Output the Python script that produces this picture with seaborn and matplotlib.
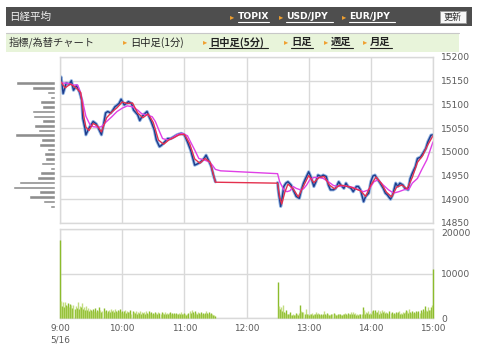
import numpy as np
import matplotlib
matplotlib.use("Agg")
import matplotlib.pyplot as plt
from matplotlib.lines import Line2D
from matplotlib.patches import Rectangle
import seaborn as sns

# ---------------- data (minutes after 9:00) ----------------
am_minutes = [0,1,3,6,9,11,13,16,19,21,22,24,25,28,30,32,35,37,40,42,44,46,49,51,53,57,59,62,64,66,
              69,71,75,77,79,82,84,86,88,91,93,96,98,101,104,107,110,113,117,120,123,126,130,133,136,139,141,144,146,148,150]
am_close = [15150,15158,15123,15145,15143,15150,15130,15140,15125,15109,15071,15050,15036,15050,15057,15064,15059,15050,15036,15057,
            15082,15085,15082,15088,15095,15102,15111,15099,15102,15106,15102,15088,15078,15066,15074,15081,15085,15074,15064,15046,
            15025,15011,15014,15021,15028,15028,15032,15036,15039,15036,15021,15004,14972,14975,14979,14986,14993,14979,14969,14951,14937]
pm_minutes = [210,211,213,214,216,218,220,223,225,228,231,233,235,237,240,242,245,247,249,252,254,257,259,261,264,266,269,271,274,276,
              278,281,283,286,288,290,293,295,298,300,302,304,306,309,312,314,316,319,321,324,326,328,331,333,336,338,340,343,345,348,
              350,353,355,358,360]
pm_close = [14935,14913,14885,14897,14927,14934,14937,14930,14920,14906,14902,14920,14934,14944,14958,14948,14927,14937,14951,14948,
            14951,14948,14930,14920,14920,14923,14937,14930,14923,14934,14927,14923,14916,14927,14927,14920,14895,14906,14913,14937,
            14949,14951,14944,14934,14923,14913,14909,14900,14909,14934,14927,14934,14930,14923,14920,14944,14955,14969,14986,14989,
            14996,15007,15021,15035,15036]

ma_short_minutes = [0,5,10,15,20,23,25,28,32,36,40,45,50,55,60,65,70,75,80,85,90,95,100,105,110,115,120,125,130,135,
                    140,145,150,210,212,214,217,220,225,230,235,240,245,250,255,260,265,270,275,280,285,290,295,300,305,310,
                    315,320,325,330,335,340,345,350,355,360]
ma_short = [15150,15135,15143,15136,15125,15075,15052,15045,15060,15055,15042,15072,15084,15093,15105,15102,15103,15082,15072,15080,
            15062,15025,15016,15025,15030,15036,15037,15018,14985,14976,14986,14978,14936,14934,14905,14890,14915,14932,14922,14905,
            14928,14950,14935,14946,14948,14930,14922,14930,14928,14926,14922,14918,14906,14930,14947,14934,14915,14905,14926,14930,
            14922,14946,14978,14992,15015,15034]

ma_long_minutes = [0,6,13,17,19,22,25,29,32,37,40,45,50,55,60,65,70,75,79,84,89,92,96,99,104,109,113,118,123,126,
                   130,134,139,144,147,150,155,210,212,216,219,222,225,228,232,235,238,241,245,249,254,259,264,269,274,278,
                   283,288,293,298,303,307,312,317,322,327,332,337,340,345,349,354,360]
ma_long = [15145,15145,15141,15141,15130,15105,15075,15057,15053,15052,15053,15064,15074,15085,15092,15097,15095,15088,15080,15078,
           15074,15064,15043,15028,15025,15030,15036,15039,15034,15021,15004,14986,14983,14979,14972,14963,14960,14954,14937,14920,
           14916,14918,14927,14923,14920,14922,14930,14941,14946,14946,14944,14937,14929,14927,14929,14927,14925,14920,14916,14920,
           14937,14941,14930,14920,14913,14916,14920,14922,14934,14944,14962,14983,15021]

# per-minute volume, 9:00-11:30 and 12:30-15:00
vol_am = [17500,
          3800,2700,3500,2400,3700,2900,2600,3300,2500,3200,
          2900,2200,3000,2000,2600,2300,3600,2100,2800,2400,
          3300,2000,2500,1800,2700,1900,2200,1600,2100,1700,
          1500,2000,1600,2300,1400,1900,1500,2400,1700,1300,
          1600,2200,1500,1900,1200,1600,1800,1300,2000,1500,
          1700,1400,2000,1600,1300,1800,1500,2100,1400,1600,
          1200,1500,1800,1100,1600,1400,1300,1700,1000,1500,
          1300,1100,1600,900,1400,1200,1500,1000,1300,1100,
          1400,900,1600,1200,1000,1500,1100,1300,900,1200,
          1000,1400,1100,900,1300,1200,1000,1400,1100,900,
          1300,1000,1200,800,1100,1300,900,1200,1000,1100,
          900,1200,1000,800,1100,900,1300,1000,800,1100,
          900,700,1000,1200,1600,1100,1800,1300,1000,1500,
          1200,900,1400,1100,800,1300,1000,1200,900,1100,
          1500,1200,1000,1400,800,1100,900,700,600,500]
vol_pm = [8000,
          2600,2000,2400,1500,2900,1300,1200,1700,900,1000,
          800,1300,700,600,900,700,600,1100,800,600,
          1200,3000,1500,1400,1300,1000,2100,900,1000,700,
          900,800,1200,700,1000,800,1400,900,1100,800,
          700,900,600,1000,1500,900,700,1100,800,600,
          700,1000,800,1100,900,700,600,900,1000,800,
          700,600,1000,900,1200,800,700,1100,900,1000,
          1400,800,1300,900,1100,700,1000,600,800,900,
          1000,2400,1800,900,1300,1100,1600,1000,1200,900,
          1500,1900,1100,1700,1300,1400,1800,1000,1600,1200,
          1700,1300,1500,1100,1400,1200,1000,1500,1100,1300,
          1000,1200,900,1400,1100,1300,1500,1000,1200,900,
          1300,1100,1400,1900,1600,1200,2000,1300,1100,1500,
          1200,1400,1100,1600,1300,1500,1200,1800,1400,2000,
          1600,2800,1900,1500,2500,1700,1800,2400,2900,
          10900]

profile_prices = [15145,15135,15125,15115,15105,15095,15085,15075,15065,15055,15045,15035,15025,15015,
                  15005,14995,14985,14975,14965,14955,14945,14935,14925,14915,14905,14895,14885]
profile_volume = [115,66,23,14,44,37,68,64,37,62,50,118,41,46,21,31,27,41,12,43,53,105,123,47,76,35,13]

hour_ticks = [0,60,120,180,240,300,360]
hour_labels = ["9:00\n5/16","10:00","11:00","12:00","13:00","14:00","15:00"]
price_ticks = [14850,14900,14950,15000,15050,15100,15150,15200]
vol_ticks = [0,10000,20000]

# ---------------- style ----------------
sns.set_style("white")
plt.rcParams['font.family'] = ['DejaVu Sans', 'Noto Sans CJK JP']
JP = ['Noto Sans CJK JP', 'DejaVu Sans']
W, H = 480, 354
fig = plt.figure(figsize=(4.8, 3.54), dpi=100)
fig.patch.set_facecolor('white')

def fx(x): return x / W
def fy(y): return 1 - y / H

GRID = '#d9d9d9'
LABEL = '#5a5a5a'

# ---------------- header bars ----------------
fig.add_artist(Rectangle((fx(6), fy(26)), fx(466), 19 / H, transform=fig.transFigure,
                         facecolor='#4e4e4e', edgecolor='none'))
fig.text(fx(9), fy(16.5), "日経平均", family=JP, fontsize=7.6, color='#f2f2f2', va='center', ha='left')
for tri_x, x0, x1, label in [(230, 238, 269, "TOPIX"), (279, 286, 333, "USD/JPY"), (342, 349, 395, "EUR/JPY")]:
    fig.text(fx(tri_x), fy(16.5), "▸", family=['DejaVu Sans'], fontsize=6, color='#f0a030', va='center')
    fig.text(fx(x0), fy(16.5), label, family=['DejaVu Sans'], fontsize=6.6, fontweight='bold',
             color='white', va='center', ha='left')
    fig.add_artist(Line2D([fx(x0), fx(x1)], [fy(22.3), fy(22.3)], transform=fig.transFigure,
                          color='white', lw=0.8))
fig.add_artist(Rectangle((fx(440), fy(23)), fx(26), 12 / H, transform=fig.transFigure,
                         facecolor='#f7f7f7', edgecolor='#999999', lw=0.6))
fig.text(fx(453), fy(17), "更新", family=JP, fontsize=6.5, color='#333333', va='center', ha='center')

fig.add_artist(Rectangle((fx(6), fy(52)), fx(453), 19 / H, transform=fig.transFigure,
                         facecolor='#e8f4da', edgecolor='none'))
fig.add_artist(Line2D([fx(6), fx(459)], [fy(33), fy(33)], transform=fig.transFigure, color='#c8c8c8', lw=0.8))
fig.text(fx(9), fy(42), "指標/為替チャート", family=JP, fontsize=7.4, color='#333333', va='center', ha='left')
tabs = [(123, 130, 186, "日中足(1分)", False), (203, 209, 268, "日中足(5分)", True),
        (284, 291, 313, "日足", True), (324, 331, 353, "週足", True), (363, 370, 392, "月足", True)]
for tri_x, x0, x1, label, link in tabs:
    fig.text(fx(tri_x), fy(42), "▸", family=['DejaVu Sans'], fontsize=6, color='#f0a030', va='center')
    fig.text(fx(x0), fy(42), label, family=JP, fontsize=7.4, color='#222222',
             fontweight='bold' if link else 'normal', va='center', ha='left')
    if link:
        fig.add_artist(Line2D([fx(x0), fx(x1)], [fy(48), fy(48)], transform=fig.transFigure,
                              color='#222222', lw=0.8))

# ---------------- price panel ----------------
ax = fig.add_axes([fx(60), fy(223), fx(373), 166 / H])
ax.set_xlim(0, 360)
ax.set_ylim(14850, 15200)
for m, c in [(am_minutes, am_close), (pm_minutes, pm_close)]:
    sns.lineplot(x=m, y=c, ax=ax, color='#8fb2e2', lw=2.3, estimator=None, sort=False)
    sns.lineplot(x=m, y=c, ax=ax, color='#1d3c8c', lw=1.0, estimator=None, sort=False)
sns.lineplot(x=ma_long_minutes, y=ma_long, ax=ax, color='#e040e6', lw=1.0, estimator=None, sort=False)
sns.lineplot(x=ma_short_minutes, y=ma_short, ax=ax, color='#e4304e', lw=1.0, estimator=None, sort=False)
ax.set_xticks(hour_ticks)
ax.set_xticklabels([])
ax.set_yticks(price_ticks)
ax.yaxis.tick_right()
ax.tick_params(axis='both', length=0)
ax.tick_params(axis='y', pad=6, labelsize=6.6, labelcolor=LABEL)
ax.grid(True, color=GRID, lw=1.0)
for s in ax.spines.values():
    s.set_color(GRID)
    s.set_linewidth(1.0)
ax.set_xlabel("")
ax.set_ylabel("")

# ---------------- volume profile ----------------
pax = fig.add_axes([fx(13), fy(223), fx(41.5), 166 / H])
pax.barh(profile_prices, profile_volume, height=7.5, color='#8e8e8e', align='center')
pax.set_ylim(14850, 15200)
pax.set_xlim(max(profile_volume), 0)
pax.axis('off')

# ---------------- volume panel ----------------
vax = fig.add_axes([fx(60), fy(318), fx(373), 89 / H])
am_t = np.arange(len(vol_am))
pm_t = 210 + np.arange(len(vol_pm))
for t, v in [(am_t, vol_am), (pm_t, vol_pm)]:
    cols = ['#8cbc2c' if i % 2 == 0 else '#c2dd80' for i in range(len(v))]
    vax.vlines(t, 0, v, colors=cols, lw=1.0, zorder=3, clip_on=False)
vax.set_xlim(0, 360)
vax.set_ylim(0, 20000)
vax.set_xticks(hour_ticks)
vax.set_xticklabels(hour_labels, fontsize=6.4, color=LABEL, linespacing=1.35)
vax.set_yticks(vol_ticks)
vax.yaxis.tick_right()
vax.tick_params(axis='both', length=0)
vax.tick_params(axis='y', pad=6, labelsize=6.6, labelcolor=LABEL)
vax.tick_params(axis='x', pad=4)
vax.grid(True, color=GRID, lw=1.0)
vax.set_axisbelow(True)
for s in vax.spines.values():
    s.set_color(GRID)
    s.set_linewidth(1.0)
# top label of the volume scale sits just under the price scale's bottom label
for lbl in vax.get_yticklabels():
    if lbl.get_text() == "20000":
        lbl.set_va('top')

fig.savefig("out.png", dpi=100)
